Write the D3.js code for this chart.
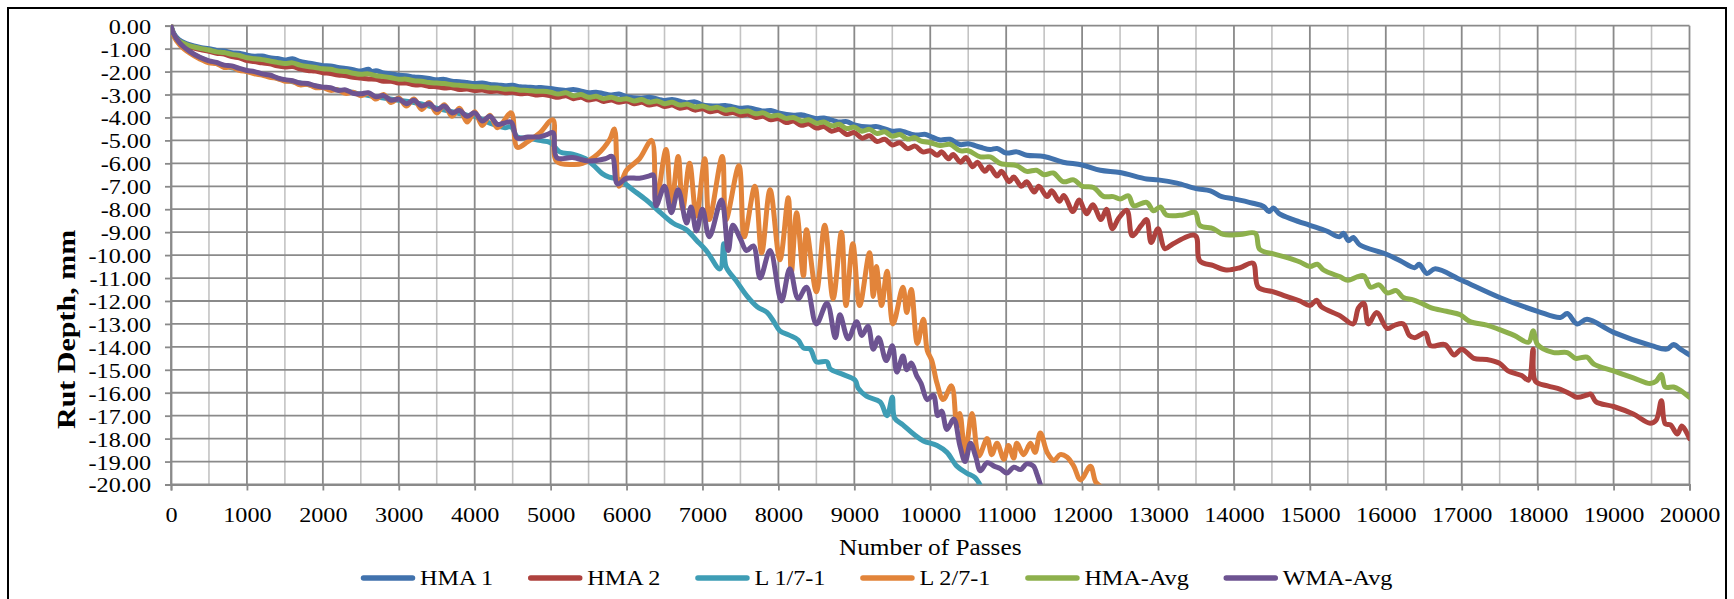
<!DOCTYPE html>
<html>
<head>
<meta charset="utf-8">
<script src="https://cdn.jsdelivr.net/npm/d3@7"></script>
<style>
  html, body { margin: 0; padding: 0; background: #ffffff; }
  svg { display: block; }
  text { font-family: "Liberation Serif", "Times New Roman", serif; fill: #000; }
</style>
</head>
<body>
<svg id="chart" width="1734" height="599"></svg>
<script>
// Rut depth (mm) against number of wheel passes, one array of [passes, depth] per mix.
const seriesNames = ["HMA 1", "HMA 2", "L 1/7-1", "L 2/7-1", "HMA-Avg", "WMA-Avg"];
const seriesColors = ["#4172ad", "#ae423e", "#3e9db5", "#e2843a", "#8db04c", "#6d5391"];

const hma1 = [[0,0],[40,-0.35],[100,-0.6],[200,-0.78],[300,-0.88],[400,-0.96],[500,-1.0],[600,-1.08],[700,-1.1],[800,-1.18],[900,-1.2],[1000,-1.28],[1100,-1.33],[1200,-1.32],[1300,-1.4],[1400,-1.43],[1500,-1.5],[1600,-1.44],[1700,-1.56],[1800,-1.62],[1900,-1.68],[2000,-1.74],[2100,-1.76],[2200,-1.82],[2300,-1.86],[2400,-1.92],[2500,-1.98],[2600,-1.9],[2650,-2.0],[2700,-1.96],[2800,-2.06],[2900,-2.1],[3000,-2.16],[3100,-2.18],[3200,-2.24],[3300,-2.26],[3400,-2.3],[3500,-2.36],[3600,-2.34],[3700,-2.42],[3800,-2.44],[3900,-2.48],[4000,-2.52],[4100,-2.5],[4200,-2.56],[4300,-2.58],[4400,-2.62],[4500,-2.6],[4600,-2.66],[4700,-2.68],[4800,-2.7],[4900,-2.7],[5000,-2.74],[5200,-2.82],[5300,-2.78],[5500,-2.92],[5600,-2.9],[5800,-3.02],[5900,-2.98],[6000,-3.1],[6200,-3.16],[6300,-3.12],[6500,-3.26],[6600,-3.22],[6800,-3.36],[6900,-3.32],[7000,-3.45],[7200,-3.5],[7300,-3.48],[7500,-3.6],[7600,-3.58],[7800,-3.72],[7900,-3.7],[8000,-3.8],[8200,-3.9],[8300,-3.88],[8500,-4.05],[8600,-4.02],[8800,-4.2],[8900,-4.18],[9000,-4.32],[9200,-4.42],[9300,-4.4],[9500,-4.6],[9600,-4.58],[9800,-4.76],[9940,-4.74],[10000,-4.82],[10130,-4.98],[10260,-4.95],[10390,-5.18],[10500,-5.15],[10660,-5.3],[10790,-5.4],[10880,-5.35],[11000,-5.55],[11140,-5.5],[11270,-5.65],[11500,-5.7],[11750,-5.95],[12000,-6.07],[12240,-6.3],[12500,-6.4],[12850,-6.68],[13000,-6.72],[13250,-6.86],[13500,-7.1],[13690,-7.2],[13840,-7.45],[14000,-7.55],[14250,-7.74],[14390,-7.88],[14460,-8.1],[14520,-7.95],[14600,-8.2],[14780,-8.45],[15000,-8.7],[15220,-8.95],[15390,-9.2],[15440,-9.05],[15510,-9.37],[15570,-9.23],[15660,-9.56],[16000,-9.95],[16190,-10.25],[16380,-10.55],[16440,-10.4],[16540,-10.8],[16650,-10.6],[17000,-11.1],[17500,-11.85],[18000,-12.45],[18300,-12.72],[18390,-12.55],[18520,-13.0],[18650,-12.8],[19000,-13.37],[19500,-13.95],[19700,-14.1],[19790,-13.9],[19880,-14.1],[20000,-14.35]];

const hma2 = [[0,0],[40,-0.45],[100,-0.7],[200,-0.88],[300,-0.98],[400,-1.05],[500,-1.12],[600,-1.2],[700,-1.24],[800,-1.35],[900,-1.4],[1000,-1.52],[1100,-1.56],[1200,-1.62],[1300,-1.66],[1400,-1.75],[1500,-1.8],[1600,-1.78],[1700,-1.88],[1800,-1.95],[1900,-1.98],[2000,-2.05],[2100,-2.08],[2200,-2.15],[2300,-2.18],[2400,-2.25],[2500,-2.28],[2600,-2.32],[2700,-2.34],[2800,-2.42],[2900,-2.42],[3000,-2.5],[3100,-2.5],[3200,-2.58],[3300,-2.58],[3400,-2.65],[3500,-2.66],[3600,-2.72],[3700,-2.7],[3800,-2.78],[3900,-2.76],[4000,-2.82],[4100,-2.8],[4200,-2.87],[4300,-2.85],[4400,-2.92],[4500,-2.9],[4600,-2.97],[4700,-2.95],[4800,-3.02],[4900,-3.0],[5000,-3.06],[5100,-3.12],[5200,-3.05],[5300,-3.18],[5400,-3.12],[5500,-3.24],[5600,-3.18],[5700,-3.3],[5800,-3.24],[5900,-3.34],[6000,-3.28],[6100,-3.4],[6200,-3.34],[6300,-3.46],[6400,-3.4],[6500,-3.52],[6600,-3.46],[6700,-3.6],[6800,-3.54],[6900,-3.68],[7000,-3.62],[7100,-3.75],[7200,-3.7],[7300,-3.83],[7400,-3.78],[7500,-3.9],[7600,-3.86],[7700,-4.0],[7800,-3.95],[7900,-4.1],[8000,-4.05],[8100,-4.22],[8200,-4.16],[8300,-4.34],[8400,-4.28],[8500,-4.46],[8600,-4.4],[8700,-4.6],[8800,-4.52],[8900,-4.74],[9000,-4.66],[9100,-4.9],[9200,-4.8],[9300,-5.05],[9400,-4.95],[9500,-5.2],[9600,-5.1],[9700,-5.36],[9800,-5.25],[9900,-5.5],[10000,-5.45],[10090,-5.65],[10150,-5.5],[10240,-5.8],[10300,-5.62],[10400,-5.95],[10470,-5.75],[10560,-6.15],[10620,-5.95],[10720,-6.35],[10780,-6.15],[10880,-6.55],[10940,-6.35],[11040,-6.8],[11100,-6.6],[11200,-7.0],[11270,-6.8],[11370,-7.25],[11430,-7.0],[11540,-7.45],[11600,-7.2],[11700,-7.65],[11760,-7.4],[11880,-8.1],[11960,-7.6],[12060,-8.2],[12140,-7.8],[12250,-8.45],[12320,-8.0],[12400,-8.85],[12480,-8.4],[12590,-8.05],[12660,-9.15],[12780,-8.7],[12850,-8.45],[12910,-9.45],[13000,-8.85],[13090,-9.72],[13200,-9.5],[13490,-9.15],[13550,-10.25],[13730,-10.46],[13900,-10.65],[14080,-10.55],[14250,-10.35],[14320,-11.4],[14520,-11.6],[14690,-11.8],[14870,-12.0],[15000,-12.2],[15090,-11.97],[15150,-12.25],[15400,-12.65],[15570,-13.0],[15640,-12.3],[15710,-12.1],[15770,-13.0],[15880,-12.5],[16020,-13.2],[16120,-13.05],[16230,-13.0],[16310,-13.5],[16380,-13.6],[16520,-13.4],[16590,-13.95],[16780,-13.9],[16900,-14.35],[17000,-14.1],[17160,-14.5],[17330,-14.55],[17500,-14.72],[17610,-15.05],[17790,-15.25],[17880,-15.45],[17940,-14.1],[17970,-15.5],[18130,-15.7],[18300,-15.85],[18430,-16.05],[18520,-16.2],[18650,-16.1],[18700,-16.06],[18770,-16.4],[19000,-16.6],[19260,-16.93],[19480,-17.33],[19560,-17.2],[19630,-16.35],[19680,-17.35],[19750,-17.4],[19840,-17.8],[19900,-17.45],[20000,-18.0]];

const l1 = [[0,0],[30,-0.35],[120,-0.8],[250,-1.15],[380,-1.4],[500,-1.55],[700,-1.75],[1000,-1.98],[1300,-2.2],[1500,-2.38],[1800,-2.56],[2000,-2.7],[2300,-2.85],[2500,-2.98],[2700,-3.1],[3000,-3.25],[3200,-3.35],[3400,-3.5],[3500,-3.6],[3700,-3.75],[3900,-3.9],[4000,-3.95],[4200,-4.25],[4400,-4.45],[4480,-4.4],[4560,-4.85],[4700,-4.9],[4850,-5.0],[5000,-5.1],[5120,-5.5],[5290,-5.6],[5460,-5.8],[5570,-6.1],[5680,-6.45],[5770,-6.6],[5900,-6.7],[6080,-7.15],[6260,-7.6],[6430,-8.1],[6610,-8.6],[6790,-8.9],[6920,-9.35],[7050,-9.8],[7230,-10.6],[7280,-9.5],[7310,-10.5],[7440,-11.1],[7590,-11.8],[7720,-12.25],[7850,-12.5],[7930,-12.85],[8020,-13.3],[8150,-13.5],[8260,-13.7],[8330,-14.05],[8420,-14.1],[8500,-14.65],[8640,-14.65],[8680,-14.95],[8850,-15.2],[9010,-15.45],[9050,-15.8],[9160,-16.15],[9340,-16.4],[9430,-17.0],[9500,-16.2],[9530,-17.1],[9640,-17.4],[9780,-17.8],[9910,-18.1],[10090,-18.3],[10220,-18.6],[10350,-19.2],[10480,-19.5],[10590,-19.7],[10660,-20.05]];

const l2 = [[0,0],[30,-0.4],[120,-0.85],[250,-1.2],[380,-1.45],[500,-1.62],[600,-1.65],[700,-1.82],[800,-1.8],[900,-1.95],[1000,-2.0],[1100,-2.1],[1200,-2.15],[1300,-2.25],[1400,-2.3],[1500,-2.42],[1600,-2.42],[1700,-2.58],[1800,-2.55],[1900,-2.7],[2000,-2.7],[2100,-2.82],[2200,-2.8],[2300,-2.95],[2400,-2.9],[2500,-3.05],[2600,-2.95],[2700,-3.2],[2800,-3.0],[2900,-3.35],[3000,-3.15],[3100,-3.5],[3200,-3.2],[3300,-3.65],[3400,-3.35],[3500,-3.8],[3600,-3.45],[3700,-3.95],[3800,-3.6],[3900,-4.2],[4000,-3.75],[4100,-4.35],[4200,-3.9],[4300,-4.45],[4480,-3.8],[4560,-5.3],[4700,-5.05],[4850,-4.7],[5030,-4.1],[5075,-5.9],[5290,-6.05],[5420,-6.0],[5620,-5.6],[5780,-4.95],[5840,-4.5],[5900,-7.0],[6000,-6.3],[6170,-5.8],[6330,-5.0],[6390,-7.7],[6520,-5.4],[6590,-7.85],[6680,-5.7],[6740,-8.0],[6830,-6.0],[6920,-8.3],[7030,-5.8],[7090,-8.45],[7260,-5.7],[7310,-8.45],[7480,-6.1],[7550,-9.2],[7690,-7.0],[7780,-9.9],[7890,-7.15],[8020,-10.2],[8130,-7.5],[8170,-10.77],[8240,-8.15],[8330,-10.9],[8370,-8.9],[8500,-11.6],[8610,-8.7],[8720,-11.9],[8830,-9.0],[8890,-12.2],[8980,-9.5],[9070,-12.2],[9200,-9.9],[9250,-11.8],[9290,-10.5],[9360,-12.2],[9430,-10.7],[9510,-13.0],[9640,-11.4],[9690,-12.5],[9750,-11.5],[9830,-13.85],[9910,-12.8],[9960,-14.15],[10020,-14.6],[10090,-15.6],[10170,-16.3],[10280,-15.7],[10350,-17.5],[10390,-16.9],[10460,-18.6],[10550,-16.9],[10640,-18.75],[10750,-18.0],[10810,-18.7],[10880,-18.2],[10970,-18.9],[11030,-18.3],[11100,-18.85],[11140,-18.2],[11230,-18.7],[11320,-18.2],[11380,-18.6],[11450,-17.75],[11540,-18.6],[11630,-18.95],[11710,-18.7],[11800,-18.8],[11890,-19.2],[11980,-19.8],[12110,-19.2],[12180,-19.9],[12250,-20.1]];

const hmaAvg = [[0,0],[40,-0.4],[100,-0.65],[200,-0.82],[300,-0.93],[400,-1.0],[500,-1.06],[600,-1.14],[700,-1.17],[800,-1.25],[900,-1.3],[1000,-1.4],[1100,-1.44],[1200,-1.48],[1300,-1.54],[1400,-1.6],[1500,-1.65],[1600,-1.62],[1700,-1.72],[1800,-1.78],[1900,-1.82],[2000,-1.88],[2100,-1.9],[2200,-1.97],[2300,-2.0],[2400,-2.07],[2500,-2.12],[2600,-2.1],[2700,-2.18],[2800,-2.22],[2900,-2.27],[3000,-2.33],[3100,-2.33],[3200,-2.4],[3300,-2.42],[3400,-2.48],[3500,-2.5],[3600,-2.52],[3700,-2.57],[3800,-2.6],[3900,-2.63],[4000,-2.66],[4100,-2.66],[4200,-2.71],[4300,-2.72],[4400,-2.77],[4500,-2.76],[4600,-2.81],[4700,-2.82],[4800,-2.86],[4900,-2.86],[5000,-2.9],[5100,-2.98],[5200,-2.92],[5300,-3.05],[5400,-3.0],[5500,-3.12],[5600,-3.08],[5700,-3.18],[5800,-3.12],[5900,-3.22],[6000,-3.18],[6100,-3.28],[6200,-3.22],[6300,-3.34],[6400,-3.28],[6500,-3.4],[6600,-3.34],[6700,-3.46],[6800,-3.42],[6900,-3.54],[7000,-3.5],[7100,-3.6],[7200,-3.56],[7300,-3.68],[7400,-3.64],[7500,-3.75],[7600,-3.72],[7700,-3.84],[7800,-3.8],[7900,-3.94],[8000,-3.9],[8100,-4.04],[8200,-4.0],[8300,-4.15],[8400,-4.1],[8500,-4.25],[8600,-4.2],[8700,-4.36],[8800,-4.3],[8900,-4.48],[9000,-4.42],[9100,-4.6],[9200,-4.52],[9300,-4.7],[9400,-4.62],[9500,-4.82],[9600,-4.74],[9700,-4.94],[9800,-4.88],[9870,-5.02],[10000,-5.1],[10130,-5.22],[10260,-5.17],[10390,-5.45],[10500,-5.45],[10660,-5.72],[10790,-5.72],[10920,-6.0],[11000,-6.05],[11140,-6.1],[11270,-6.35],[11400,-6.3],[11500,-6.5],[11620,-6.42],[11750,-6.8],[11890,-6.72],[12000,-7.0],[12150,-7.05],[12280,-7.44],[12410,-7.45],[12500,-7.55],[12610,-7.42],[12680,-7.85],[12850,-7.7],[12940,-8.07],[13030,-7.9],[13110,-8.25],[13330,-8.25],[13490,-8.15],[13550,-8.7],[13730,-8.85],[13860,-9.1],[14080,-9.1],[14280,-9.05],[14340,-9.75],[14520,-9.95],[14690,-10.1],[14870,-10.3],[15000,-10.5],[15100,-10.4],[15180,-10.65],[15400,-10.95],[15500,-11.1],[15620,-10.95],[15710,-10.9],[15800,-11.4],[15910,-11.3],[16020,-11.65],[16140,-11.55],[16230,-11.85],[16360,-11.95],[16470,-12.1],[16600,-12.3],[16800,-12.45],[16980,-12.6],[17110,-12.9],[17330,-13.05],[17500,-13.25],[17690,-13.5],[17880,-13.8],[17940,-13.3],[18000,-13.9],[18210,-14.25],[18390,-14.25],[18500,-14.5],[18650,-14.45],[18740,-14.75],[19000,-15.05],[19260,-15.35],[19480,-15.6],[19560,-15.5],[19630,-15.2],[19680,-15.75],[19790,-15.75],[19880,-15.9],[20000,-16.2]];

const wmaAvg = [[0,0],[30,-0.33],[120,-0.77],[250,-1.13],[380,-1.38],[500,-1.53],[600,-1.6],[700,-1.72],[800,-1.75],[900,-1.86],[1000,-1.95],[1100,-2.0],[1200,-2.1],[1300,-2.15],[1400,-2.27],[1500,-2.35],[1600,-2.4],[1700,-2.5],[1800,-2.52],[1900,-2.62],[2000,-2.68],[2100,-2.7],[2200,-2.82],[2300,-2.8],[2400,-2.95],[2500,-2.97],[2600,-2.92],[2700,-3.1],[2800,-3.05],[2900,-3.25],[3000,-3.2],[3100,-3.4],[3200,-3.25],[3300,-3.5],[3400,-3.4],[3500,-3.65],[3600,-3.5],[3700,-3.8],[3800,-3.7],[3900,-3.95],[4000,-3.8],[4100,-4.15],[4200,-3.95],[4300,-4.3],[4380,-4.25],[4480,-4.2],[4560,-4.9],[4700,-4.85],[4850,-4.85],[4950,-4.75],[5030,-4.66],[5080,-5.75],[5290,-5.75],[5500,-5.9],[5720,-5.8],[5810,-5.7],[5880,-6.9],[6000,-6.65],[6170,-6.65],[6300,-6.55],[6350,-6.5],[6390,-7.85],[6500,-7.0],[6590,-8.15],[6680,-7.15],[6790,-8.6],[6850,-7.9],[6920,-8.95],[7000,-8.0],[7090,-9.2],[7250,-7.6],[7340,-9.8],[7400,-8.7],[7500,-9.3],[7580,-9.8],[7670,-9.6],[7760,-11.0],[7890,-9.8],[8040,-12.0],[8150,-10.6],[8260,-11.9],[8370,-11.4],[8500,-13.0],[8640,-12.1],[8750,-13.6],[8810,-12.6],[8920,-13.65],[9030,-12.9],[9100,-13.5],[9180,-13.1],[9250,-14.1],[9320,-13.6],[9420,-14.6],[9500,-13.95],[9560,-15.1],[9640,-14.4],[9690,-15.0],[9750,-14.7],[9820,-15.25],[9880,-15.6],[9960,-16.3],[10040,-16.1],[10100,-17.0],[10150,-16.8],[10220,-17.6],[10310,-17.15],[10390,-18.3],[10460,-19.0],[10530,-18.2],[10600,-18.8],[10660,-19.4],[10750,-19.05],[10840,-19.2],[10920,-19.3],[11010,-19.5],[11100,-19.25],[11190,-19.35],[11270,-19.1],[11360,-19.2],[11400,-19.5],[11450,-20.0]];

const seriesData = [hma1, hma2, l1, l2, hmaAvg, wmaAvg];

// Axis tick labels
const xTickValues = [0,1000,2000,3000,4000,5000,6000,7000,8000,9000,10000,11000,12000,13000,14000,15000,16000,17000,18000,19000,20000];
const xMinorValues = [500,1500,2500,3500,4500,5500,6500,7500,8500,9500,10500,11500,12500,13500,14500,15500,16500,17500,18500,19500];
const yTickValues = [0,-1,-2,-3,-4,-5,-6,-7,-8,-9,-10,-11,-12,-13,-14,-15,-16,-17,-18,-19,-20];

const xTitle = "Number of Passes";
const yTitle = "Rut Depth, mm";

// ---- layout ----
const plot = { left: 171, right: 1689.5, top: 25.7, bottom: 484.5 };
const textStretch = 1.1;     // glyphs are drawn slightly wide
const labelSize = 22;

const svg = d3.select("#chart");

const x = d3.scaleLinear().domain([0, 20000]).range([plot.left, plot.right]);
const y = d3.scaleLinear().domain([-20, 0]).range([plot.bottom, plot.top]);

// Widen a text element horizontally about its anchor point.
function widen(sel, k) {
  sel.each(function () {
    const t = d3.select(this);
    const tx = +t.attr("x") || 0, ty = +t.attr("y") || 0;
    t.attr("transform", `translate(${tx},${ty}) scale(${k},1) translate(${-tx},${-ty})`);
  });
}

// Chart frame
svg.append("rect")
  .attr("x", 8).attr("y", 8)
  .attr("width", 1718).attr("height", 620)
  .attr("fill", "#fff").attr("stroke", "#000").attr("stroke-width", 2);

// Grid
const grid = svg.append("g").attr("class", "grid");
grid.selectAll("line.minor").data(xMinorValues).join("line")
  .attr("class", "minor")
  .attr("x1", d => x(d)).attr("x2", d => x(d))
  .attr("y1", plot.top).attr("y2", plot.bottom)
  .attr("stroke", "#c3c3c3").attr("stroke-width", 1.6);
grid.selectAll("line.vmajor").data(xTickValues).join("line")
  .attr("class", "vmajor")
  .attr("x1", d => x(d)).attr("x2", d => x(d))
  .attr("y1", plot.top).attr("y2", plot.bottom)
  .attr("stroke", "#8a8a8a").attr("stroke-width", 1.8);
grid.selectAll("line.hmajor").data(yTickValues).join("line")
  .attr("class", "hmajor")
  .attr("x1", plot.left).attr("x2", plot.right)
  .attr("y1", d => y(d)).attr("y2", d => y(d))
  .attr("stroke", "#8a8a8a").attr("stroke-width", 1.8);

// Axes
const yAxis = d3.axisLeft(y).tickValues(yTickValues).tickSize(6).tickPadding(14)
  .tickFormat(d => d.toFixed(2));
const gy = svg.append("g").attr("transform", `translate(${plot.left},0)`).call(yAxis);
gy.select(".domain").attr("stroke", "#8a8a8a").attr("stroke-width", 1.8);
gy.selectAll(".tick line").attr("stroke", "#8a8a8a").attr("stroke-width", 1.8);
gy.selectAll(".tick text")
  .attr("font-family", "Liberation Serif, Times New Roman, serif")
  .attr("font-size", labelSize).attr("fill", "#000")
  .attr("dy", "0.34em")
  .call(widen, textStretch);

const xAxis = d3.axisBottom(x).tickValues(xTickValues).tickSize(6).tickPadding(10)
  .tickFormat(d => String(d));
const gx = svg.append("g").attr("transform", `translate(0,${plot.bottom})`).call(xAxis);
gx.select(".domain").attr("stroke", "#8a8a8a").attr("stroke-width", 1.8);
gx.selectAll(".tick line").attr("stroke", "#8a8a8a").attr("stroke-width", 1.8);
gx.selectAll(".tick text")
  .attr("font-family", "Liberation Serif, Times New Roman, serif")
  .attr("font-size", labelSize).attr("fill", "#000")
  .attr("y", 30).attr("dy", "0.34em")
  .call(widen, textStretch);

// Series lines (smoothed), clipped to the plot area
svg.append("clipPath").attr("id", "plot-clip")
  .append("rect")
  .attr("x", plot.left).attr("y", plot.top - 1)
  .attr("width", plot.right - plot.left).attr("height", plot.bottom - plot.top + 1);

const line = d3.line().x(d => x(d[0])).y(d => y(d[1])).curve(d3.curveCatmullRom.alpha(0.5));
const linesG = svg.append("g").attr("clip-path", "url(#plot-clip)");
seriesData.forEach((data, i) => {
  linesG.append("path")
    .datum(data)
    .attr("d", line)
    .attr("fill", "none")
    .attr("stroke", seriesColors[i])
    .attr("stroke-width", 5)
    .attr("stroke-linejoin", "round")
    .attr("stroke-linecap", "round");
});

// Axis titles
svg.append("text")
  .attr("x", (plot.left + plot.right) / 2).attr("y", 547)
  .attr("dy", "0.34em")
  .attr("text-anchor", "middle")
  .attr("font-size", 23)
  .text(xTitle)
  .call(widen, textStretch);

svg.append("text")
  .attr("transform", `translate(75,429) rotate(-90) scale(1.2,1)`)
  .attr("text-anchor", "start")
  .attr("font-size", 25)
  .attr("font-weight", "bold")
  .text(yTitle);

// Legend
const legendY = 578;
const legend = svg.append("g");
let lx = 361;
seriesNames.forEach((name, i) => {
  legend.append("line")
    .attr("x1", lx + 2.5).attr("x2", lx + 51.5)
    .attr("y1", legendY).attr("y2", legendY)
    .attr("stroke", seriesColors[i]).attr("stroke-width", 5.5)
    .attr("stroke-linecap", "round");
  const t = legend.append("text")
    .attr("x", lx + 59).attr("y", legendY)
    .attr("dy", "0.34em")
    .attr("font-size", labelSize)
    .text(name)
    .call(widen, textStretch);
  const w = t.node().getComputedTextLength() * textStretch;
  lx = lx + 59 + w + 35;
});
</script>
</body>
</html>
